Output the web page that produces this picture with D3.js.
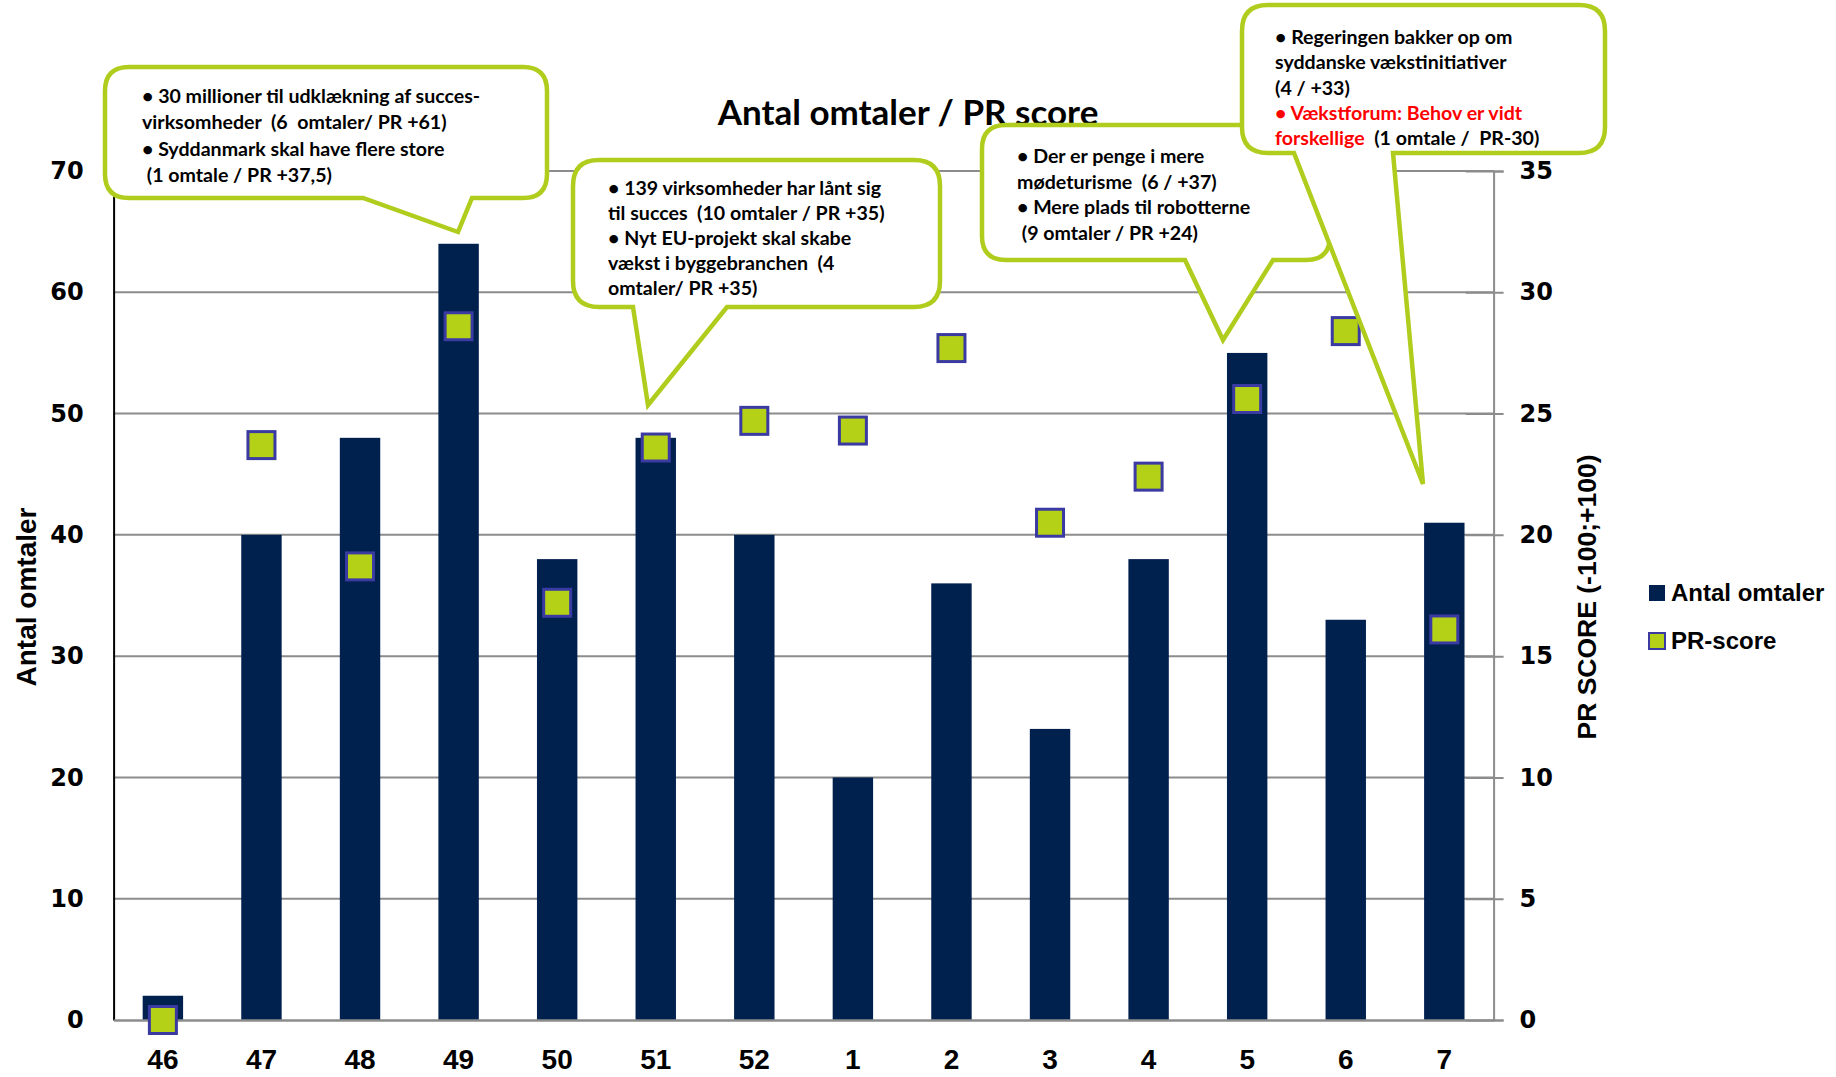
<!DOCTYPE html>
<html lang="da">
<head>
  <meta charset="UTF-8" />
  <title>Antal omtaler / PR score</title>
  <script src="https://cdnjs.cloudflare.com/ajax/libs/d3/7.8.5/d3.min.js"></script>
  <style>
    body { margin: 0; background: #fff; }
    svg { display: block; }
    .tick-num { font-family: "DejaVu Sans", sans-serif; font-weight: bold; font-size: 24px; fill: #000; }
    .narrow { font-family: "Liberation Sans Narrow", "Liberation Sans", sans-serif; font-weight: bold; fill: #000; }
    .note { font-family: Lato, "Open Sans", sans-serif; font-weight: bold; font-size: 19.6px; }
  </style>
</head>
<body>
<script>
// --- data ---
var weeks  = ["46", "47", "48", "49", "50", "51", "52", "1", "2", "3", "4", "5", "6", "7"];
var antal  = [2, 40, 48, 64, 38, 48, 40, 20, 36, 24, 38, 55, 33, 41];
var prScore = [0, 23.7, 18.7, 28.6, 17.2, 23.6, 24.7, 24.3, 27.7, 20.5, 22.4, 25.6, 28.4, 16.1];
var leftTicks  = [0, 10, 20, 30, 40, 50, 60, 70];
var rightTicks = [0, 5, 10, 15, 20, 25, 30, 35];
var seriesNames = ["Antal omtaler", "PR-score"];

// callout texts: each line is a list of [text, colour]
var note1 = [
  [["• 30 millioner til udklækning af succes-", "#000"]],
  [["virksomheder  (6  omtaler/ PR +61)", "#000"]],
  [["• Syddanmark skal have flere store", "#000"]],
  [[" (1 omtale / PR +37,5)", "#000"]]
];
var note2 = [
  [["• 139 virksomheder har lånt sig", "#000"]],
  [["til succes  (10 omtaler / PR +35)", "#000"]],
  [["• Nyt EU-projekt skal skabe", "#000"]],
  [["vækst i byggebranchen  (4", "#000"]],
  [["omtaler/ PR +35)", "#000"]]
];
var note3 = [
  [["• Der er penge i mere", "#000"]],
  [["mødeturisme  (6 / +37)", "#000"]],
  [["• Mere plads til robotterne", "#000"]],
  [[" (9 omtaler / PR +24)", "#000"]]
];
var note4 = [
  [["• Regeringen bakker op om", "#000"]],
  [["syddanske vækstinitiativer", "#000"]],
  [["(4 / +33)", "#000"]],
  [["• Vækstforum: Behov er vidt", "#ff0000"]],
  [["forskellige", "#ff0000"], ["  (1 omtale /  PR-30)", "#000"]]
];

var W = 1836, H = 1077;
var margin = { left: 113.6, right: W - 1493.6, top: 171, bottom: H - 1020 };
var barColor = "#00204e", markFill = "#b4d017", markStroke = "#3a3aa2";
var calloutStroke = "#b0cc1c";

var svg = d3.select("body").append("svg").attr("width", W).attr("height", H);

var x = d3.scaleBand().domain(weeks).range([margin.left, W - margin.right]).paddingInner(0.59).paddingOuter(0.295);
var band = d3.scaleBand().domain(weeks).range([margin.left, W - margin.right]);
var yL = d3.scaleLinear().domain([0, 70]).range([H - margin.bottom, margin.top]);
var yR = d3.scaleLinear().domain([0, 35]).range([H - margin.bottom, margin.top]);

// gridlines
svg.append("g").selectAll("line").data(leftTicks.slice(1)).join("line")
  .attr("x1", margin.left).attr("x2", W - margin.right)
  .attr("y1", d => yL(d)).attr("y2", d => yL(d))
  .attr("stroke", "#8c8c8c").attr("stroke-width", 2);

// bars
svg.append("g").selectAll("rect").data(antal).join("rect")
  .attr("x", (d, i) => x(weeks[i]))
  .attr("width", x.bandwidth())
  .attr("y", d => yL(d))
  .attr("height", d => yL(0) - yL(d))
  .attr("fill", barColor);

// left axis
var gL = svg.append("g").attr("transform", "translate(" + margin.left + ",0)")
  .call(d3.axisLeft(yL).tickValues(leftTicks).tickSize(0).tickPadding(30));
gL.select(".domain").attr("stroke", "#000").attr("stroke-width", 2);
gL.selectAll("text").attr("class", "tick-num").attr("font-family", null).attr("font-size", null);

// right axis
var gR = svg.append("g").attr("transform", "translate(" + (W - margin.right) + ",0)")
  .call(d3.axisRight(yR).tickValues(rightTicks).tickSize(10).tickPadding(16));
gR.select(".domain").attr("stroke", "#8c8c8c").attr("stroke-width", 2);
gR.selectAll(".tick line").attr("stroke", "#8c8c8c").attr("stroke-width", 2).attr("x1", -28);
gR.selectAll("text").attr("class", "tick-num").attr("font-family", null).attr("font-size", null);

// x axis
var gX = svg.append("g").attr("transform", "translate(0," + (H - margin.bottom) + ")")
  .call(d3.axisBottom(band).tickSize(0));
gX.select(".domain").attr("stroke", "#8c8c8c").attr("stroke-width", 2.5);
gX.selectAll("text").attr("class", "narrow").attr("font-family", null).attr("font-size", null)
  .attr("y", 49).attr("dy", null)
  .style("font-size", "28px");

// PR markers
svg.append("g").selectAll("rect").data(prScore).join("rect")
  .attr("x", (d, i) => band(weeks[i]) + band.bandwidth() / 2 - 13.5)
  .attr("y", d => yR(d) - 13.5)
  .attr("width", 27).attr("height", 27)
  .attr("fill", markFill).attr("stroke", markStroke).attr("stroke-width", 3);

// axis titles
svg.append("text").attr("class", "narrow").style("font-size", "28px")
  .attr("transform", "translate(36,597) rotate(-90)").attr("text-anchor", "middle")
  .text("Antal omtaler");
svg.append("text").attr("class", "narrow").style("font-size", "26.5px")
  .attr("transform", "translate(1596,597) rotate(-90)").attr("text-anchor", "middle")
  .text("PR SCORE (-100;+100)");

// title
svg.append("text").attr("x", 908).attr("y", 125).attr("text-anchor", "middle")
  .style("font-family", "Lato, sans-serif").style("font-weight", "bold").style("font-size", "35px")
  .text("Antal omtaler / PR score");

// legend
var leg = svg.append("g").attr("transform", "translate(1649,585)");
seriesNames.forEach(function(name, i) {
  var g = leg.append("g").attr("transform", "translate(0," + (i * 48) + ")");
  g.append("rect").attr("width", 16).attr("height", 16)
    .attr("fill", i === 0 ? barColor : markFill)
    .attr("stroke", i === 0 ? "none" : markStroke).attr("stroke-width", 2);
  g.append("text").attr("class", "narrow").style("font-size", "24px")
    .attr("x", 22).attr("y", 16).text(name);
});

// callouts
function calloutPath(c) {
  var p = d3.path(), r = c.r;
  p.moveTo(c.x0 + r, c.y0);
  p.lineTo(c.x1 - r, c.y0);
  p.quadraticCurveTo(c.x1, c.y0, c.x1, c.y0 + r);
  p.lineTo(c.x1, c.y1 - r);
  p.quadraticCurveTo(c.x1, c.y1, c.x1 - r, c.y1);
  p.lineTo(c.tail[1], c.y1);
  p.lineTo(c.tip[0], c.tip[1]);
  p.lineTo(c.tail[0], c.y1);
  p.lineTo(c.x0 + r, c.y1);
  p.quadraticCurveTo(c.x0, c.y1, c.x0, c.y1 - r);
  p.lineTo(c.x0, c.y0 + r);
  p.quadraticCurveTo(c.x0, c.y0, c.x0 + r, c.y0);
  p.closePath();
  return p.toString();
}

var callouts = [
  { lines: note1, x0: 105, y0: 67, x1: 547, y1: 198, r: 24, tail: [363, 472], tip: [458, 232], tx: 142, ty: 103, lh: 26.3 },
  { lines: note2, x0: 573, y0: 160, x1: 940, y1: 307, r: 26, tail: [633, 727], tip: [648, 405], tx: 608, ty: 195, lh: 25 },
  { lines: note3, x0: 982, y0: 125, x1: 1330, y1: 260, r: 24, tail: [1185, 1273], tip: [1223, 340], tx: 1017, ty: 163, lh: 25.7 },
  { lines: note4, x0: 1242, y0: 5, x1: 1605, y1: 153, r: 26, tail: [1294, 1393], tip: [1423, 484], tx: 1275, ty: 44, lh: 25.3 }
];

callouts.forEach(function(c) {
  var g = svg.append("g");
  g.append("path").attr("d", calloutPath(c))
    .attr("fill", "#fff").attr("stroke", calloutStroke).attr("stroke-width", 4.5)
    .attr("stroke-linejoin", "miter");
  var t = g.append("text").attr("class", "note").attr("xml:space", "preserve");
  c.lines.forEach(function(line, i) {
    line.forEach(function(seg, j) {
      var ts = t.append("tspan").attr("fill", seg[1]).text(seg[0]);
      if (j === 0) ts.attr("x", c.tx).attr("y", c.ty + i * c.lh);
    });
  });
});
</script>
</body>
</html>
